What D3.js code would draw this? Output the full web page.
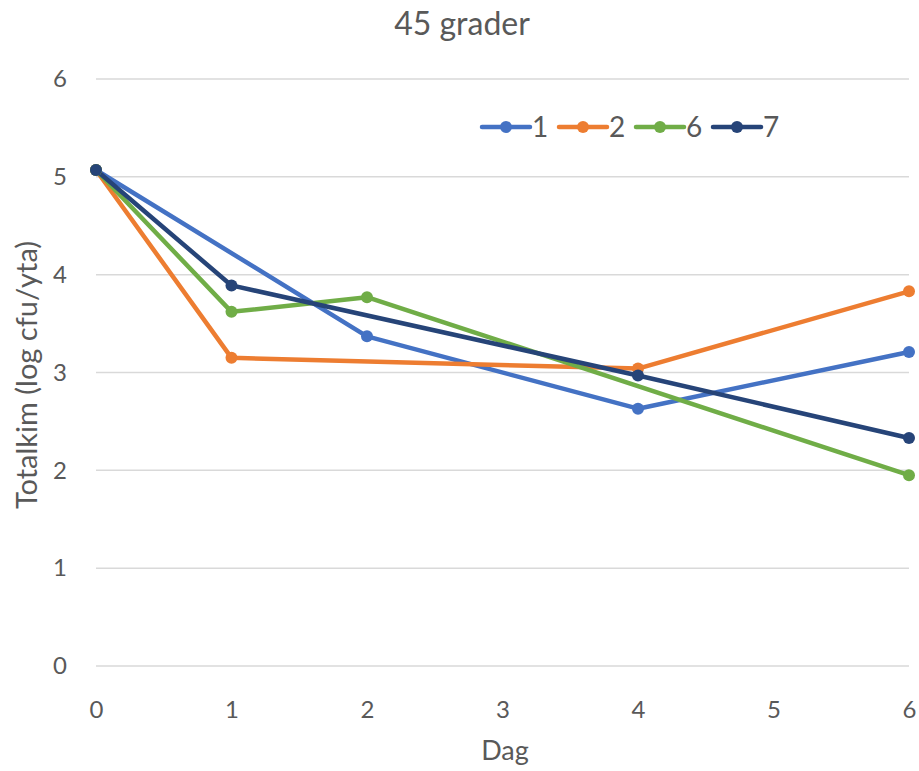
<!DOCTYPE html>
<html>
<head>
<meta charset="utf-8">
<script src="https://cdn.jsdelivr.net/npm/d3@7"></script>
<style>
  body { margin: 0; background: #fff; }
  svg { display: block; font-family: Lato, "Open Sans", sans-serif; }
</style>
</head>
<body>
<svg id="chart" width="919" height="771"></svg>
<script>
// Totalkim per day at 45 degrees, one series per sample
const seriesNames = ["1", "2", "6", "7"];
const seriesColors = ["#4472C4", "#ED7D31", "#70AD47", "#264478"];
const days1 = [0, 2, 4, 6];
const values1 = [5.07, 3.37, 2.63, 3.21];
const days2 = [0, 1, 4, 6];
const values2 = [5.07, 3.15, 3.04, 3.83];
const days6 = [0, 1, 2, 6];
const values6 = [5.07, 3.62, 3.77, 1.95];
const days7 = [0, 1, 4, 6];
const values7 = [5.07, 3.89, 2.97, 2.33];
const xTicks = [0, 1, 2, 3, 4, 5, 6];
const yTicks = [0, 1, 2, 3, 4, 5, 6];

const series = [
  { name: seriesNames[0], color: seriesColors[0], pts: days1.map((d, i) => [d, values1[i]]) },
  { name: seriesNames[1], color: seriesColors[1], pts: days2.map((d, i) => [d, values2[i]]) },
  { name: seriesNames[2], color: seriesColors[2], pts: days6.map((d, i) => [d, values6[i]]) },
  { name: seriesNames[3], color: seriesColors[3], pts: days7.map((d, i) => [d, values7[i]]) }
];

const svg = d3.select("#chart");
const x = d3.scaleLinear().domain([0, 6]).range([96, 909]);
const y = d3.scaleLinear().domain([0, 6]).range([666, 79]);
const textColor = "#595959";
const tickSize = 24;

// horizontal gridlines
svg.append("g")
  .selectAll("line")
  .data(yTicks)
  .join("line")
  .attr("x1", x(0)).attr("x2", x(6))
  .attr("y1", d => y(d)).attr("y2", d => y(d))
  .attr("stroke", "#d9d9d9").attr("stroke-width", 1.5);

// y axis labels
const yAxis = svg.append("g")
  .attr("transform", `translate(${x(0) - 29},0)`)
  .call(d3.axisLeft(y).tickValues(yTicks).tickSize(0).tickPadding(0).tickFormat(d3.format("d")));
yAxis.select(".domain").remove();
yAxis.selectAll("text").attr("fill", textColor).attr("font-size", tickSize).attr("font-family", "Lato, sans-serif");

// x axis labels
const xAxis = svg.append("g")
  .attr("transform", `translate(0,${y(0) + 35})`)
  .call(d3.axisBottom(x).tickValues(xTicks).tickSize(0).tickPadding(0).tickFormat(d3.format("d")));
xAxis.select(".domain").remove();
xAxis.selectAll("text").attr("fill", textColor).attr("font-size", tickSize).attr("font-family", "Lato, sans-serif");

// titles
svg.append("text").attr("x", 462).attr("y", 35).attr("text-anchor", "middle")
  .attr("fill", textColor).attr("font-size", 32).text("45 grader");
svg.append("text").attr("x", 505).attr("y", 760).attr("text-anchor", "middle")
  .attr("fill", textColor).attr("font-size", 27).text("Dag");
svg.append("text").attr("transform", `translate(37,375) rotate(-90)`)
  .attr("text-anchor", "middle").attr("fill", textColor).attr("font-size", 29)
  .text("Totalkim (log cfu/yta)");

// series lines and markers
const line = d3.line().x(d => x(d[0])).y(d => y(d[1]));
const g = svg.append("g");
series.forEach(s => {
  g.append("path").datum(s.pts).attr("d", line)
    .attr("fill", "none").attr("stroke", s.color).attr("stroke-width", 4.5)
    .attr("stroke-linejoin", "round").attr("stroke-linecap", "round");
});
series.forEach(s => {
  g.selectAll(null).data(s.pts).join("circle")
    .attr("cx", d => x(d[0])).attr("cy", d => y(d[1])).attr("r", 6)
    .attr("fill", s.color);
});

// legend
const legendX = [482, 559, 636, 713];
const leg = svg.append("g");
series.forEach((s, i) => {
  const lx = legendX[i], ly = 127;
  leg.append("line").attr("x1", lx).attr("x2", lx + 48).attr("y1", ly).attr("y2", ly)
    .attr("stroke", s.color).attr("stroke-width", 4.5).attr("stroke-linecap", "round");
  leg.append("circle").attr("cx", lx + 24).attr("cy", ly).attr("r", 6).attr("fill", s.color);
  leg.append("text").attr("x", lx + 50).attr("y", ly + 10).attr("fill", textColor)
    .attr("font-size", 28).text(s.name);
});
</script>
</body>
</html>
